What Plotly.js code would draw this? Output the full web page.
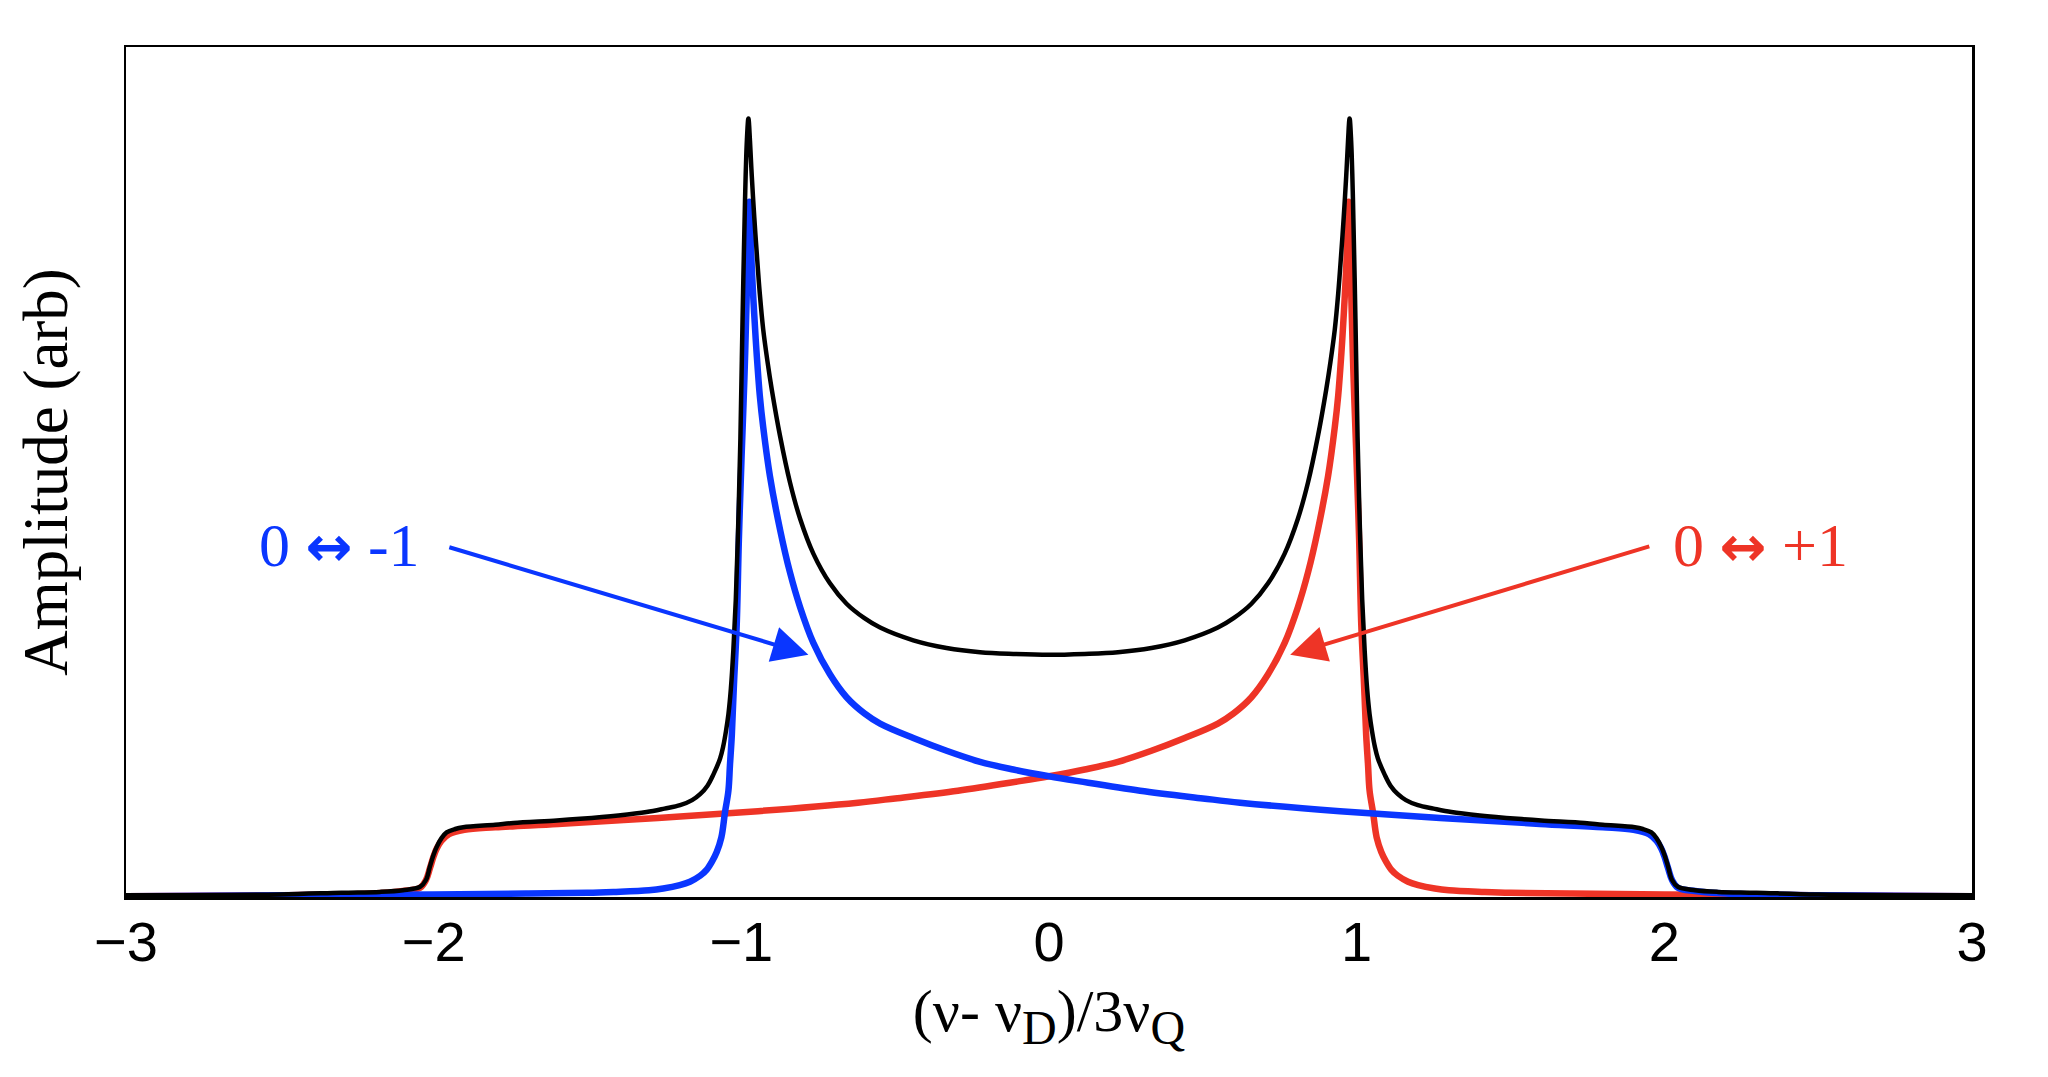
<!DOCTYPE html>
<html>
<head>
<meta charset="utf-8">
<script src="https://cdn.plot.ly/plotly-3.0.1.min.js"></script>
<style>
  html, body { margin: 0; padding: 0; background: #fff; }
  #viz { width: 2048px; height: 1077px; }
</style>
</head>
<body>
<div id="viz"></div>
<script>
// values (amplitude in arbitrary units, 0..1 of the frame)

// 0 <-> -1 transition (blue)
var blueX = [-3.0, -2.5, -2.0, -1.7, -1.5, -1.416, -1.3, -1.254, -1.2, -1.167, -1.134, -1.113, -1.095, -1.080,
  -1.065, -1.053, -1.042, -1.037, -1.031, -1.024, -1.015, -1.008, -0.999, -0.990, -0.983, -0.978, -0.974,
  -0.969, -0.966, -0.958, -0.950, -0.940, -0.929, -0.907, -0.874, -0.842, -0.809, -0.766, -0.712, -0.658,
  -0.60, -0.549, -0.441, -0.333, -0.224, -0.116, 0.0, 0.1, 0.296, 0.5, 0.621, 0.946, 1.271, 1.596, 1.8,
  1.9, 1.95, 1.975, 1.99, 2.0, 2.012, 2.025, 2.044, 2.1, 2.2, 2.5, 3.0];
var blueY = [0.001, 0.002, 0.003, 0.004, 0.005, 0.006, 0.008, 0.010, 0.014, 0.018, 0.025, 0.032, 0.042, 0.053,
  0.070, 0.100, 0.125, 0.155, 0.19, 0.25, 0.32, 0.42, 0.52, 0.61, 0.70, 0.78, 0.818,
  0.77, 0.74, 0.685, 0.638, 0.59, 0.553, 0.495, 0.432, 0.382, 0.341, 0.299, 0.262, 0.235,
  0.216, 0.204, 0.187, 0.172, 0.159, 0.150, 0.142, 0.136, 0.125, 0.116, 0.111, 0.101, 0.093, 0.086, 0.082,
  0.079, 0.074, 0.066, 0.057, 0.048, 0.034, 0.020, 0.011, 0.007, 0.004, 0.002, 0.001];

// 0 <-> +1 transition (red)
var redX = [-3.0, -2.5, -2.2, -2.1, -2.044, -2.025, -2.012, -2.0, -1.99, -1.975, -1.95, -1.9, -1.8, -1.596,
  -1.271, -0.946, -0.621, -0.5, -0.296, -0.1, 0.0, 0.116, 0.224, 0.333, 0.441, 0.549, 0.60, 0.658, 0.712,
  0.766, 0.809, 0.842, 0.874, 0.907, 0.929, 0.940, 0.950, 0.958, 0.966, 0.969, 0.974, 0.978, 0.983, 0.990,
  0.999, 1.008, 1.015, 1.024, 1.031, 1.037, 1.042, 1.053, 1.065, 1.080, 1.095, 1.113, 1.134, 1.167, 1.2,
  1.254, 1.3, 1.416, 1.5, 1.7, 2.0, 2.5, 3.0];
var redY = [0.001, 0.002, 0.004, 0.007, 0.011, 0.020, 0.034, 0.048, 0.057, 0.066, 0.074, 0.079, 0.082, 0.086,
  0.093, 0.101, 0.111, 0.116, 0.125, 0.136, 0.142, 0.150, 0.159, 0.172, 0.187, 0.204, 0.216, 0.235, 0.262,
  0.299, 0.341, 0.382, 0.432, 0.495, 0.553, 0.59, 0.638, 0.685, 0.74, 0.77, 0.818, 0.78, 0.70, 0.61,
  0.52, 0.42, 0.32, 0.25, 0.19, 0.155, 0.125, 0.100, 0.070, 0.053, 0.042, 0.032, 0.025, 0.018, 0.014,
  0.010, 0.008, 0.006, 0.005, 0.004, 0.003, 0.002, 0.001];

// total powder spectrum (black)
var blackX = [-3.0, -2.5, -2.3, -2.174, -2.1, -2.044, -2.025, -2.012, -2.0, -1.990, -1.975, -1.958, -1.93,
  -1.904, -1.8, -1.741, -1.6, -1.524, -1.4, -1.308, -1.25, -1.199, -1.16, -1.134, -1.11, -1.091, -1.069,
  -1.059, -1.050, -1.042, -1.034, -1.026, -1.018, -1.010, -1.003, -0.996, -0.988, -0.982, -0.977, -0.972,
  -0.966, -0.958, -0.950, -0.940, -0.929, -0.915, -0.901, -0.874, -0.842, -0.809, -0.766, -0.712, -0.658,
  -0.60, -0.549, -0.441, -0.333, -0.224, -0.116, 0.0, 0.116, 0.224, 0.333, 0.441, 0.549, 0.60, 0.658,
  0.712, 0.766, 0.809, 0.842, 0.874, 0.901, 0.915, 0.929, 0.940, 0.950, 0.958, 0.966, 0.972, 0.977,
  0.982, 0.988, 0.996, 1.003, 1.010, 1.018, 1.026, 1.034, 1.042, 1.050, 1.059, 1.069, 1.091, 1.11, 1.134,
  1.16, 1.199, 1.25, 1.308, 1.4, 1.524, 1.6, 1.741, 1.8, 1.904, 1.93, 1.958, 1.975, 1.990, 2.0, 2.012,
  2.025, 2.044, 2.1, 2.174, 2.3, 2.5, 3.0];
var blackY = [0.002, 0.003, 0.005, 0.006, 0.008, 0.012, 0.020, 0.036, 0.05, 0.059, 0.069, 0.076, 0.080,
  0.082, 0.085, 0.087, 0.090, 0.092, 0.096, 0.100, 0.104, 0.108, 0.114, 0.121, 0.131, 0.144, 0.163,
  0.177, 0.195, 0.215, 0.245, 0.29, 0.35, 0.44, 0.54, 0.68, 0.82, 0.89, 0.916, 0.89,
  0.848, 0.80, 0.758, 0.71, 0.668, 0.63, 0.597, 0.542, 0.488, 0.445, 0.404, 0.369, 0.345,
  0.328, 0.317, 0.302, 0.293, 0.288, 0.286, 0.285, 0.286, 0.288, 0.293, 0.302, 0.317, 0.328, 0.345,
  0.369, 0.404, 0.445, 0.488, 0.542, 0.597, 0.63, 0.668, 0.71, 0.758, 0.80, 0.848, 0.89, 0.916,
  0.89, 0.82, 0.68, 0.54, 0.44, 0.35, 0.29, 0.245, 0.215, 0.195, 0.177, 0.163, 0.144, 0.131, 0.121,
  0.114, 0.108, 0.104, 0.100, 0.096, 0.092, 0.090, 0.087, 0.085, 0.082, 0.080, 0.076, 0.069, 0.059, 0.05, 0.036,
  0.020, 0.012, 0.008, 0.006, 0.005, 0.003, 0.002];

var tickVals = [-3, -2, -1, 0, 1, 2, 3];
var tickText = ['\u22123', '\u22122', '\u22121', '0', '1', '2', '3'];

var blueCol = '#0a36ff';
var redCol = '#ee3426';
var serif = 'Liberation Serif, Times New Roman, serif';
var arrowGlyph = '<span style="font-family:DejaVu Sans;font-weight:bold;font-size:56px">\u2194</span>';

var red = {
  x: redX, y: redY, type: 'scatter', mode: 'lines', name: '0 \u2194 +1',
  line: { color: redCol, width: 6.5, shape: 'spline', smoothing: 1 }
};
var blue = {
  x: blueX, y: blueY, type: 'scatter', mode: 'lines', name: '0 \u2194 -1',
  line: { color: blueCol, width: 6.5, shape: 'spline', smoothing: 1 }
};
var black = {
  x: blackX, y: blackY, type: 'scatter', mode: 'lines', name: 'total',
  line: { color: '#000000', width: 4.5, shape: 'spline', smoothing: 1 }
};

var data = [red, blue, black];

var layout = {
  width: 2048,
  height: 1077,
  margin: { l: 126, r: 76, t: 47, b: 180 },
  paper_bgcolor: '#ffffff',
  plot_bgcolor: '#ffffff',
  showlegend: false,
  xaxis: {
    range: [-3, 3],
    tickvals: tickVals,
    ticktext: tickText,
    ticks: '',
    ticklabelstandoff: -6,
    showgrid: false,
    zeroline: false,
    showline: true,
    mirror: true,
    linecolor: '#000',
    linewidth: 2.5,
    tickfont: { family: 'Liberation Sans, Arial, Helvetica, sans-serif', size: 56, color: '#000' },
    title: {
      text: '(\u03bd- \u03bd<sub><span style="font-size:48px">D</span></sub>)/3\u03bd<sub><span style="font-size:48px">Q</span></sub>',
      font: { family: serif, size: 60, color: '#000' },
      standoff: 18
    }
  },
  yaxis: {
    range: [0, 1],
    showticklabels: false,
    ticks: '',
    showgrid: false,
    zeroline: false,
    showline: true,
    mirror: true,
    linecolor: '#000',
    linewidth: 2.5,
    title: {
      text: 'Amplitude (arb)',
      font: { family: serif, size: 63, color: '#000' },
      standoff: 36
    }
  },
  annotations: [
    // labels
    { x: -2.3045, y: 0.414, xref: 'x', yref: 'y', text: '0 ' + arrowGlyph + ' -1', showarrow: false,
      font: { family: serif, size: 62, color: blueCol } },
    { x: 2.311, y: 0.414, xref: 'x', yref: 'y', text: '0 ' + arrowGlyph + ' +1', showarrow: false,
      font: { family: serif, size: 62, color: redCol } },
    // arrows
    { x: -0.782, y: 0.285, ax: -1.954, ay: 0.412, xref: 'x', yref: 'y', axref: 'x', ayref: 'y',
      text: '', showarrow: true, arrowhead: 2, arrowsize: 1.8, arrowwidth: 4, arrowcolor: blueCol },
    { x: 0.784, y: 0.285, ax: 1.956, ay: 0.413, xref: 'x', yref: 'y', axref: 'x', ayref: 'y',
      text: '', showarrow: true, arrowhead: 2, arrowsize: 1.8, arrowwidth: 4, arrowcolor: redCol }
  ]
};

var options = {
  staticPlot: true // no toolbar, no zoom
};

Plotly.newPlot('viz', data, layout, options);
</script>
</body>
</html>
